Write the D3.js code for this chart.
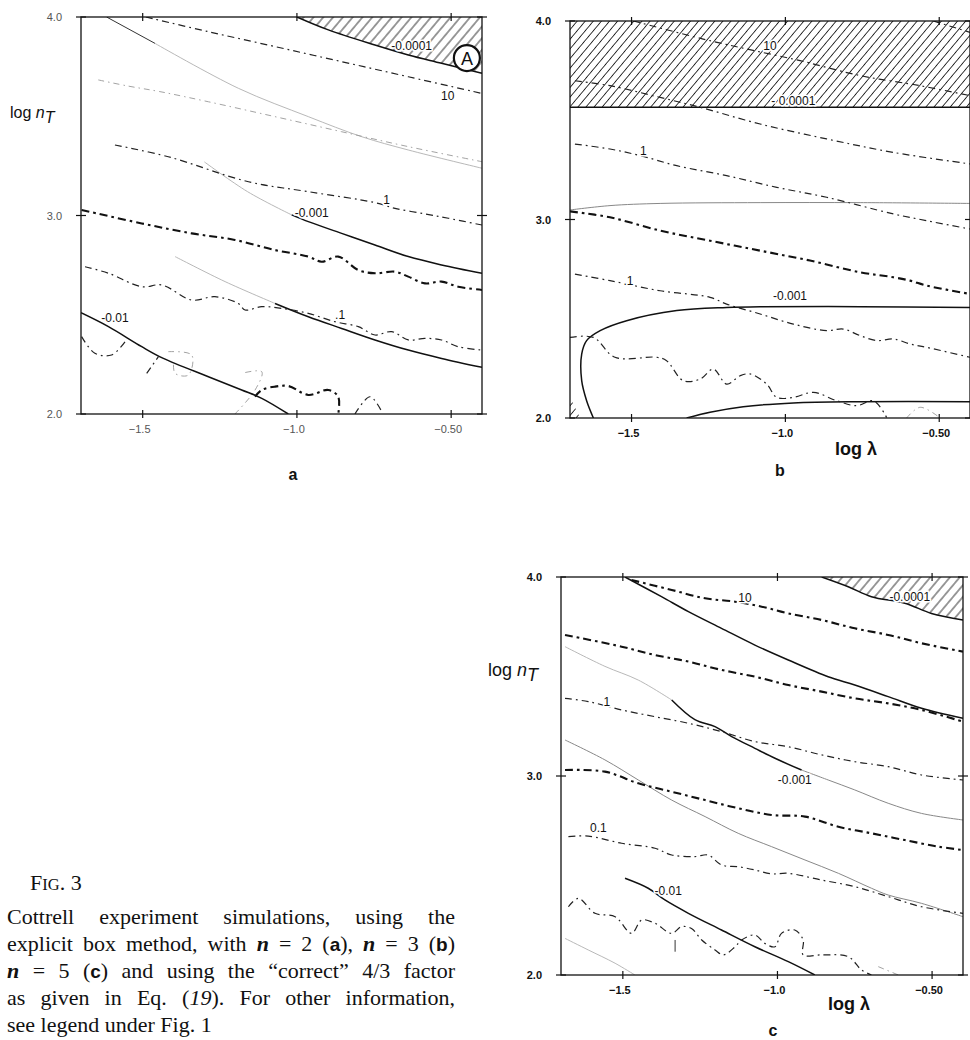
<!DOCTYPE html>
<html>
<head>
<meta charset="utf-8">
<script src="https://cdn.jsdelivr.net/npm/d3@7"></script>
<style>
  body { margin: 0; background: #fff; }
  svg { display: block; }
  text { font-family: "Liberation Sans", Arial, sans-serif; }
</style>
</head>
<body>
<script>
// axes
var xDomain = [-1.7, -0.4],
    yDomain = [2, 4],
    xTicks = [-1.5, -1.0, -0.5],
    xTickLabels = ["\u22121.5", "\u22121.0", "\u22120.50"],
    yTicks = [4, 3, 2],
    yTickLabels = ["4.0", "3.0", "2.0"];

// ---- panel a (n = 2) : [log lambda, log nT]
var aEdge0001 = [[-1.0,4.0],[-0.898,3.935],[-0.747,3.859],[-0.639,3.809],[-0.531,3.767],[-0.4,3.716]];
var a10 = [[-1.49,4.0],[-1.287,3.926],[-1.071,3.851],[-0.855,3.775],[-0.639,3.699],[-0.4,3.615]];
var aTopDark = [[-1.617,4.0],[-1.46,3.867]];
var aTopFaint = [[-1.46,3.867],[-1.19,3.641],[-0.963,3.498],[-0.79,3.397],[-0.639,3.33],[-0.4,3.238]];
var aFaintDD = [[-1.644,3.683],[-1.547,3.652],[-1.444,3.624],[-1.287,3.573],[-1.071,3.498],[-0.855,3.422],[-0.639,3.347],[-0.4,3.271]];
var a1 = [[-1.59,3.355],[-1.417,3.296],[-1.157,3.17],[-0.963,3.12],[-0.747,3.065],[-0.682,3.036],[-0.585,3.008],[-0.509,2.986],[-0.4,2.952]];
var aM001Faint = [[-1.30,3.27],[-1.16,3.12],[-1.017,3.003]];
var aM001 = [[-1.017,3.003],[-0.963,2.969],[-0.855,2.91],[-0.747,2.851],[-0.639,2.793],[-0.531,2.751],[-0.4,2.709]];
var aHeavy = [[-1.698,3.028],[-1.503,2.96],[-1.341,2.91],[-1.201,2.877],[-1.071,2.826],[-0.963,2.793],[-0.92,2.767],[-0.866,2.793],[-0.801,2.725],[-0.747,2.709],[-0.682,2.717],[-0.639,2.692],[-0.585,2.658],[-0.531,2.667],[-0.477,2.641],[-0.4,2.625]];
var aMidFaint = [[-1.395,2.793],[-1.233,2.667],[-1.071,2.557]];
var aMid = [[-1.071,2.557],[-0.963,2.49],[-0.855,2.431],[-0.747,2.373],[-0.639,2.322],[-0.531,2.28],[-0.4,2.235]];
var a01 = [[-1.687,2.742],[-1.611,2.709],[-1.503,2.641],[-1.438,2.65],[-1.341,2.574],[-1.266,2.591],[-1.19,2.557],[-1.168,2.524],[-1.114,2.541],[-1.049,2.532],[-0.963,2.507],[-0.877,2.465],[-0.801,2.44],[-0.747,2.398],[-0.693,2.415],[-0.639,2.373],[-0.585,2.381],[-0.531,2.373],[-0.477,2.339],[-0.4,2.322]];
var aM01 = [[-1.7,2.51],[-1.611,2.44],[-1.503,2.339],[-1.433,2.28],[-1.287,2.188],[-1.179,2.121],[-1.114,2.079],[-1.028,2.0]];
var aSq1 = [[-1.698,2.39],[-1.655,2.306],[-1.601,2.297],[-1.557,2.364]];
var aSq2 = [[-1.487,2.205],[-1.449,2.289]];
var aSq3 = [[-1.136,2.087],[-1.114,2.121],[-1.071,2.138],[-1.028,2.141],[-0.963,2.096],[-0.898,2.121],[-0.866,2.087],[-0.866,2.0]];
var aSq4 = [[-0.812,2.0],[-0.763,2.087],[-0.725,2.012]];
var aSqFaint1 = [[-1.417,2.314],[-1.341,2.297],[-1.352,2.196],[-1.395,2.205],[-1.40,2.26]];
var aSqFaint2 = [[-1.201,2.0],[-1.136,2.12],[-1.114,2.213],[-1.179,2.205]];
var aLabels = [["-0.0001",-0.628,3.856],["10",-0.511,3.602],["1",-0.709,3.08],["-0.001",-0.952,3.014],[".1",-0.86,2.50],["-0.01",-1.59,2.482]];
var aMarker = [-0.449, 3.793];

// ---- panel b (n = 3)
var bBand = [[-1.7,3.565],[-0.4,3.565]];
var bCorner = [[-1.7,2.104],[-1.667,2.0]];
var b10 = [[-1.494,4.0],[-1.267,3.909],[-1.126,3.859],[-0.952,3.8],[-0.757,3.725],[-0.562,3.674],[-0.4,3.624]];
var b10b = [[-0.519,4.0],[-0.4,3.943]];
var bUpper = [[-1.684,3.699],[-1.57,3.674],[-1.407,3.615],[-1.277,3.565],[-1.082,3.481],[-0.866,3.406],[-0.649,3.338],[-0.4,3.28]];
var b1 = [[-1.684,3.38],[-1.57,3.355],[-1.472,3.322],[-1.353,3.271],[-1.191,3.221],[-1.028,3.162],[-0.866,3.112],[-0.649,3.028],[-0.541,2.994],[-0.4,2.952]];
var bFlat = [[-1.7,3.048],[-1.57,3.07],[-1.407,3.081],[-1.082,3.085],[-0.757,3.085],[-0.4,3.081]];
var bHeavy = [[-1.7,3.041],[-1.57,3.011],[-1.407,2.944],[-1.245,2.893],[-1.082,2.843],[-0.92,2.793],[-0.757,2.734],[-0.649,2.709],[-0.595,2.692],[-0.541,2.667],[-0.4,2.625]];
var b01 = [[-1.684,2.725],[-1.57,2.692],[-1.407,2.641],[-1.245,2.608],[-1.191,2.574],[-1.082,2.524],[-0.974,2.473],[-0.866,2.44],[-0.812,2.448],[-0.757,2.415],[-0.703,2.39],[-0.649,2.398],[-0.595,2.373],[-0.541,2.356],[-0.4,2.306]];
var bM001 = [[-0.4,2.557],[-0.757,2.561],[-1.082,2.561],[-1.191,2.557],[-1.353,2.541],[-1.516,2.49],[-1.602,2.44],[-1.646,2.39],[-1.662,2.322],[-1.662,2.188],[-1.646,2.087],[-1.624,2.0]];
var bM001Low = [[-1.321,2.0],[-1.245,2.029],[-1.137,2.057],[-0.974,2.076],[-0.757,2.082],[-0.4,2.082]];
var bSq = [[-1.7,2.406],[-1.624,2.406],[-1.554,2.306],[-1.418,2.306],[-1.386,2.289],[-1.332,2.188],[-1.277,2.196],[-1.234,2.247],[-1.191,2.171],[-1.147,2.213],[-1.115,2.222],[-1.061,2.171],[-1.028,2.104],[-0.974,2.104],[-0.909,2.129],[-0.833,2.087],[-0.768,2.062],[-0.714,2.087],[-0.671,2.003]];
var bSq2 = [[-0.606,2.0],[-0.562,2.054],[-0.497,2.0]];
var bLabels = [["10",-1.05,3.876],["- 0.0001",-0.974,3.595],["1",-1.462,3.347],[".1",-1.51,2.69],["-0.001",-0.985,2.617]];

// ---- panel c (n = 5)
var cEdge0001 = [[-0.857,4.0],[-0.771,3.951],[-0.696,3.901],[-0.588,3.868],[-0.502,3.817],[-0.4,3.784]];
var c10 = [[-1.472,3.985],[-1.342,3.935],[-1.234,3.893],[-1.137,3.876],[-1.051,3.851],[-0.965,3.817],[-0.857,3.784],[-0.75,3.742],[-0.642,3.709],[-0.534,3.667],[-0.4,3.625]];
var cSolid = [[-1.493,4.0],[-1.375,3.901],[-1.288,3.826],[-1.181,3.742],[-1.073,3.658],[-0.965,3.583],[-0.836,3.499],[-0.75,3.457],[-0.642,3.399],[-0.534,3.34],[-0.4,3.29]];
var cHeavy = [[-1.687,3.709],[-1.504,3.65],[-1.396,3.608],[-1.288,3.575],[-1.181,3.533],[-1.073,3.499],[-0.965,3.457],[-0.857,3.424],[-0.75,3.39],[-0.642,3.365],[-0.534,3.332],[-0.4,3.273]];
var cM001Left = [[-1.687,3.65],[-1.558,3.551],[-1.45,3.482],[-1.342,3.382]];
var cM001 = [[-1.342,3.382],[-1.267,3.283],[-1.202,3.248],[-1.148,3.198],[-1.073,3.139],[-1.008,3.089],[-0.922,3.03]];
var cM001Right = [[-0.922,3.03],[-0.836,2.98],[-0.75,2.93],[-0.642,2.863],[-0.534,2.812],[-0.4,2.779]];
var c1 = [[-1.687,3.39],[-1.612,3.374],[-1.504,3.332],[-1.396,3.298],[-1.288,3.265],[-1.181,3.223],[-1.073,3.173],[-0.965,3.147],[-0.857,3.106],[-0.75,3.072],[-0.642,3.047],[-0.534,3.005],[-0.4,2.98]];
var cGray2 = [[-1.687,3.181],[-1.558,3.081],[-1.45,2.98],[-1.342,2.879],[-1.234,2.796],[-1.127,2.712],[-1.019,2.645],[-0.911,2.578],[-0.803,2.511],[-0.696,2.436],[-0.642,2.402],[-0.534,2.36],[-0.4,2.293]];
var cHeavy2 = [[-1.687,3.03],[-1.558,3.022],[-1.45,2.963],[-1.342,2.921],[-1.234,2.879],[-1.127,2.838],[-1.019,2.804],[-0.911,2.796],[-0.803,2.745],[-0.696,2.712],[-0.588,2.678],[-0.48,2.645],[-0.4,2.628]];
var c01 = [[-1.676,2.695],[-1.612,2.698],[-1.504,2.662],[-1.396,2.637],[-1.342,2.603],[-1.267,2.595],[-1.224,2.603],[-1.181,2.553],[-1.127,2.544],[-1.073,2.528],[-1.019,2.508],[-0.965,2.511],[-0.857,2.477],[-0.75,2.444],[-0.642,2.394],[-0.534,2.343],[-0.4,2.31]];
var cM01 = [[-1.493,2.486],[-1.418,2.436],[-1.364,2.377],[-1.288,2.31],[-1.181,2.226],[-1.073,2.142],[-0.965,2.067],[-0.879,2.0]];
var cGray3 = [[-1.687,2.184],[-1.612,2.126],[-1.525,2.059],[-1.461,2.0]];
var cSq = [[-1.676,2.343],[-1.644,2.385],[-1.59,2.31],[-1.525,2.293],[-1.472,2.209],[-1.439,2.276],[-1.396,2.26],[-1.342,2.209],[-1.31,2.243],[-1.278,2.234],[-1.245,2.176],[-1.202,2.126],[-1.175,2.101],[-1.137,2.142],[-1.116,2.176],[-1.073,2.201],[-1.041,2.159],[-1.008,2.142],[-0.987,2.209],[-0.944,2.226],[-0.917,2.176],[-0.917,2.101],[-0.857,2.101],[-0.771,2.092],[-0.728,2.025],[-0.696,2.0]];
var cSq2 = [[-0.674,2.042],[-0.609,2.0]];
var cTick = [[-1.331,2.176],[-1.331,2.117]];
var cLabels = [["10",-1.105,3.893],["-0.0001",-0.572,3.901],["1",-1.552,3.374],["-0.001",-0.944,2.98],["0.1",-1.579,2.737],["-0.01",-1.353,2.42]];

// line looks
var styles = {
  solid:   { w: 1.5, c: "#111", dash: null },
  thin:    { w: 1.0, c: "#333", dash: null },
  gray:    { w: 1.0, c: "#888", dash: null },
  faint:   { w: 0.9, c: "#b0b0b0", dash: null },
  dd:      { w: 1.2, c: "#222", dash: "7,4,1.8,4" },
  heavy:   { w: 2.1, c: "#111", dash: "8,4,2.6,4" },
  ddFaint: { w: 0.9, c: "#999", dash: "6,4,1.5,4" }
};

var panels = [
  { name: "a", left: 81, right: 482, top: 17, bottom: 414, tickColor: "#555", hatchGap: 7.5,
    hatch: [{ data: aEdge0001, base: 4 }],
    curves: [[aTopFaint,"faint"],[aFaintDD,"ddFaint"],[aM001Faint,"faint"],[aMidFaint,"faint"],[aSqFaint1,"ddFaint"],[aSqFaint2,"ddFaint"],
             [aEdge0001,"solid"],[a10,"dd"],[aTopDark,"thin"],[a1,"dd"],[aM001,"solid"],[aHeavy,"heavy"],[aMid,"solid"],
             [a01,"dd"],[aM01,"solid"],[aSq1,"dd"],[aSq2,"dd"],[aSq3,"heavy"],[aSq4,"dd"]],
    labels: aLabels, letter: ["a", 293, 480], yTitle: [10, 118, 16], xTitle: null },
  { name: "b", left: 570, right: 970, top: 21, bottom: 418, tickColor: "#111", hatchGap: 6.2,
    hatch: [{ data: bBand, base: 4 }, { data: bCorner, base: 2 }],
    curves: [[bFlat,"gray"],[bSq2,"ddFaint"],
             [bBand,"solid"],[b10,"dd"],[b10b,"dd"],[bUpper,"dd"],[b1,"dd"],[bHeavy,"heavy"],[b01,"dd"],
             [bM001,"solid"],[bM001Low,"solid"],[bSq,"dd"]],
    labels: bLabels, letter: ["b", 780, 476], yTitle: null, xTitle: [835, 455] },
  { name: "c", left: 561, right: 963, top: 577, bottom: 975, tickColor: "#111", hatchGap: 7.5,
    hatch: [{ data: cEdge0001, base: 4 }],
    curves: [[cM001Left,"faint"],[cM001Right,"gray"],[cGray2,"gray"],[cGray3,"faint"],[cSq2,"ddFaint"],
             [cEdge0001,"solid"],[c10,"heavy"],[cSolid,"solid"],[cHeavy,"heavy"],[cM001,"solid"],[c1,"dd"],
             [cHeavy2,"heavy"],[c01,"dd"],[cM01,"solid"],[cSq,"dd"],[cTick,"thin"]],
    labels: cLabels, letter: ["c", 773, 1036], yTitle: [488, 676, 18], xTitle: [828, 1010] }
];

var svg = d3.select("body").append("svg").attr("width", 970).attr("height", 1040);
svg.append("rect").attr("width", 970).attr("height", 1040).attr("fill", "#fff");
var defs = svg.append("defs");

panels.forEach(function (p) {
  var x = d3.scaleLinear().domain(xDomain).range([p.left, p.right]),
      y = d3.scaleLinear().domain(yDomain).range([p.bottom, p.top]);
  var g = svg.append("g").attr("class", "panel-" + p.name);

  // hatch pattern
  var pat = defs.append("pattern").attr("id", "hatch-" + p.name)
    .attr("patternUnits", "userSpaceOnUse")
    .attr("width", p.hatchGap).attr("height", p.hatchGap)
    .attr("patternTransform", "rotate(40)");
  pat.append("line").attr("x1", p.hatchGap / 2).attr("x2", p.hatchGap / 2)
    .attr("y1", 0).attr("y2", p.hatchGap)
    .attr("stroke", "#222").attr("stroke-width", 0.9);

  defs.append("clipPath").attr("id", "clip-" + p.name).append("rect")
    .attr("x", p.left).attr("y", p.top)
    .attr("width", p.right - p.left).attr("height", p.bottom - p.top);
  var plot = g.append("g").attr("clip-path", "url(#clip-" + p.name + ")");

  p.hatch.forEach(function (h) {
    var area = d3.area().x(function (d) { return x(d[0]); })
      .y0(y(h.base)).y1(function (d) { return y(d[1]); });
    plot.append("path").attr("d", area(h.data)).attr("fill", "url(#hatch-" + p.name + ")");
  });

  var line = d3.line().x(function (d) { return x(d[0]); }).y(function (d) { return y(d[1]); })
    .curve(d3.curveCatmullRom.alpha(0.5));
  p.curves.forEach(function (c) {
    var s = styles[c[1]];
    plot.append("path").attr("d", line(c[0])).attr("fill", "none")
      .attr("stroke", s.c).attr("stroke-width", s.w)
      .attr("stroke-dasharray", s.dash).attr("stroke-linejoin", "round");
  });

  // contour labels
  g.selectAll("text.lab").data(p.labels).enter().append("text").attr("class", "lab")
    .attr("x", function (d) { return x(d[1]); }).attr("y", function (d) { return y(d[2]); })
    .attr("text-anchor", "middle").attr("dominant-baseline", "central")
    .attr("font-size", 12).attr("fill", "#111")
    .attr("stroke", "#fff").attr("stroke-width", 3).attr("paint-order", "stroke")
    .text(function (d) { return d[0]; });

  // frame
  g.append("rect").attr("x", p.left).attr("y", p.top)
    .attr("width", p.right - p.left).attr("height", p.bottom - p.top)
    .attr("fill", "none").attr("stroke", "#111").attr("stroke-width", 1.3);

  // tick crosses
  xTicks.forEach(function (t) {
    [p.top, p.bottom].forEach(function (yy) {
      g.append("line").attr("x1", x(t)).attr("x2", x(t)).attr("y1", yy - 4).attr("y2", yy + 4)
        .attr("stroke", "#111").attr("stroke-width", 1.2);
    });
  });
  yTicks.forEach(function (t) {
    [p.left, p.right].forEach(function (xx) {
      g.append("line").attr("x1", xx - 5).attr("x2", xx + 5).attr("y1", y(t)).attr("y2", y(t))
        .attr("stroke", "#111").attr("stroke-width", 1.2);
    });
  });

  g.selectAll("text.xt").data(xTicks).enter().append("text").attr("class", "xt")
    .attr("x", function (d) { return x(d) - 3; }).attr("y", p.bottom + 19)
    .attr("text-anchor", "middle").attr("font-size", 11).attr("font-weight", p.name == "a" ? "normal" : "bold")
    .attr("fill", p.tickColor)
    .text(function (d, i) { return xTickLabels[i]; });
  g.selectAll("text.yt").data(yTicks).enter().append("text").attr("class", "yt")
    .attr("x", p.left - 19).attr("y", function (d) { return y(d) + 4; })
    .attr("text-anchor", "end").attr("font-size", 11).attr("font-weight", p.name == "a" ? "normal" : "bold")
    .attr("fill", p.tickColor)
    .text(function (d, i) { return yTickLabels[i]; });

  if (p.yTitle) {
    var yt = g.append("text").attr("x", p.yTitle[0]).attr("y", p.yTitle[1])
      .attr("font-size", p.yTitle[2]).attr("fill", "#111");
    yt.append("tspan").text("log ");
    yt.append("tspan").attr("font-style", "italic").text("n");
    yt.append("tspan").attr("font-style", "italic").attr("dy", 5).text("T");
  }
  if (p.xTitle) {
    g.append("text").attr("x", p.xTitle[0]).attr("y", p.xTitle[1])
      .attr("font-size", 18).attr("font-weight", "bold").attr("fill", "#111")
      .text("log \u03bb");
  }
  g.append("text").attr("x", p.letter[1]).attr("y", p.letter[2])
    .attr("text-anchor", "middle").attr("font-size", 16).attr("font-weight", "bold")
    .attr("fill", "#111").text(p.letter[0]);

  if (p.name == "a") {
    var m = g.append("g").attr("transform", "translate(" + x(aMarker[0]) + "," + y(aMarker[1]) + ")");
    m.append("circle").attr("r", 13).attr("fill", "#fff").attr("stroke", "#111").attr("stroke-width", 2.2);
    m.append("text").attr("text-anchor", "middle").attr("y", 6.5).attr("font-size", 18)
      .attr("fill", "#111").text("A");
  }
});

// caption
var serif = '"Liberation Serif", "Times New Roman", serif';
var fig = svg.append("text").attr("x", 30).attr("y", 890)
  .style("font-family", serif).attr("fill", "#111");
fig.append("tspan").attr("font-size", 22).text("F");
fig.append("tspan").attr("font-size", 16.5).text("IG");
fig.append("tspan").attr("font-size", 22).text(". 3");

var captionLines = [
  [["Cottrell experiment simulations, using the", ""]],
  [["explicit box method, with ", ""], ["n", "bi"], [" = 2 (", ""], ["a", "s"], ["), ", ""], ["n", "bi"], [" = 3 (", ""], ["b", "s"], [")", ""]],
  [["n", "bi"], [" = 5 (", ""], ["c", "s"], [") and using the \u201ccorrect\u201d 4/3 factor", ""]],
  [["as given in Eq. (", ""], ["19", "i"], ["). For other information,", ""]],
  [["see legend under Fig. 1", ""]]
];
captionLines.forEach(function (segs, i) {
  var t = svg.append("text").attr("x", 7).attr("y", 924 + i * 27)
    .style("font-family", serif).style("white-space", "pre")
    .attr("font-size", 22).attr("fill", "#111");
  segs.forEach(function (s) {
    var ts = t.append("tspan").text(s[0]);
    if (s[1] == "bi") ts.attr("font-weight", "bold").attr("font-style", "italic");
    if (s[1] == "i") ts.attr("font-style", "italic");
    if (s[1] == "s") ts.style("font-family", '"Liberation Sans", Arial, sans-serif').attr("font-size", 19).attr("font-weight", "bold");
  });
  if (i < captionLines.length - 1) {
    var full = segs.map(function (s) { return s[0]; }).join("");
    var spaces = full.split(" ").length - 1;
    var w = t.node().getComputedTextLength();
    t.attr("word-spacing", (448 - w) / spaces);
  }
});
</script>
</body>
</html>
